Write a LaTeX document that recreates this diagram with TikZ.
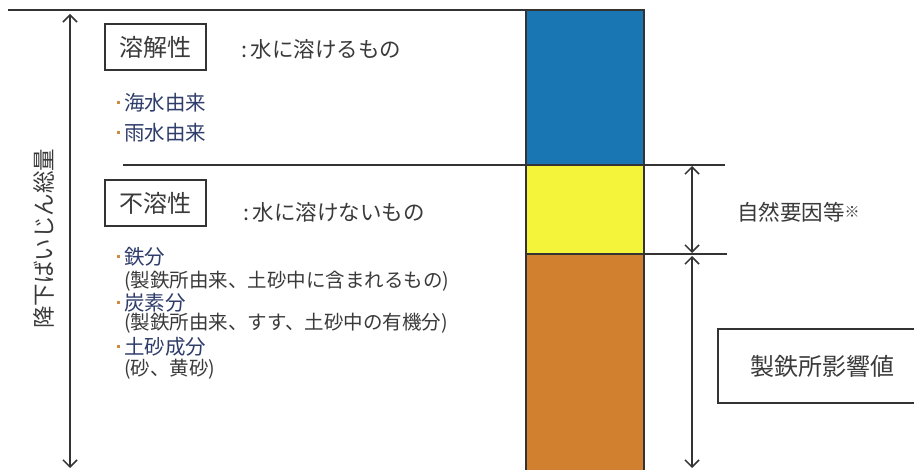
\documentclass[tikz,border=0pt]{standalone}
\usepackage{fontspec}
\setmainfont{Noto Sans CJK JP}
\usetikzlibrary{arrows.meta}
\definecolor{txt}{HTML}{3A3A3A}
\definecolor{navy}{HTML}{2F3D6B}
\definecolor{dotc}{HTML}{D08A40}
\definecolor{barblue}{HTML}{1A76B2}
\definecolor{baryel}{HTML}{F4F43A}
\definecolor{barorg}{HTML}{D1802F}
\definecolor{ln}{HTML}{333333}
\tikzset{
  lbox/.style={draw=ln, line width=2pt, minimum width=101pt, minimum height=46pt, inner sep=0pt, text=txt, font=\fontsize{24}{24}\selectfont},
  ttl/.style={anchor=west, inner sep=0pt, text=txt, font=\fontsize{21.5}{21.5}\selectfont},
  item/.style={anchor=west, inner sep=0pt, text=navy, font=\fontsize{20.5}{20.5}\selectfont},
  sub/.style={anchor=west, inner sep=0pt, text=txt, font=\fontsize{19.5}{19.5}\selectfont},
  hl/.style={draw=ln, line width=1.6pt},
  dim/.style={draw=ln, line width=1.5pt, {Straight Barb[length=7pt,width=14pt]}-{Straight Barb[length=7pt,width=14pt]}},
}
\newcommand{\bdot}{\makebox[12pt][c]{\raisebox{7pt}{\textcolor{dotc}{\rule{3pt}{3pt}}}}}
\begin{document}
\begin{tikzpicture}[x=1pt,y=-1pt]
\useasboundingbox (0,0) rectangle (914,470);
\clip (0,0) rectangle (914,470);
\fill[white] (0,0) rectangle (914,470);
% bar
\filldraw[fill=barblue, draw=ln, line width=1.2pt] (526,10) rectangle (644,165);
\filldraw[fill=baryel, draw=ln, line width=1.2pt] (526,165) rectangle (644,254);
\filldraw[fill=barorg, draw=ln, line width=1.2pt] (526,254) rectangle (644,480);
% guide lines
\coordinate (t0) at (8,10);
\coordinate (t1) at (526,10);
\coordinate (m0) at (123,165);
\coordinate (m1) at (725,165);
\coordinate (b0) at (644,254);
\coordinate (b1) at (727,254);
\draw[hl] (t0) -- (t1);
\draw[hl] (m0) -- (m1);
\draw[hl] (b0) -- (b1);
% left total arrow
\coordinate (la) at (70,14);
\coordinate (lb) at (70,468);
\draw[dim] (la) -- (lb);
\node[rotate=90, text=txt, font=\fontsize{22.5}{22.5}\selectfont, inner sep=0pt] (total) at (44,239) {降下ばいじん総量};
% right arrows
\coordinate (r0) at (692,166);
\coordinate (r1) at (692,253);
\coordinate (r2) at (692,256);
\coordinate (r3) at (692,468);
\draw[dim] (r0) -- (r1);
\draw[dim] (r2) -- (r3);
\node[text=txt, font=\fontsize{21.5}{21.5}\selectfont, inner sep=0pt, anchor=west] (nat) at (737,212) {自然要因等\raisebox{3pt}{\fontsize{15}{15}\selectfont ※}};
\node[draw=ln, line width=2pt, minimum width=220pt, minimum height=74pt, anchor=north west, inner sep=0pt] (effbox) at (717,328) {};
\node[text=txt, font=\fontsize{24}{24}\selectfont, inner sep=0pt] (eff) at (822,366) {製鉄所影響値};
% soluble
\node[lbox] (sol) at (155.5,47.5) {溶解性};
\node[ttl] (soldef) at (241,49) {:\,水に溶けるもの};
\node[item] (i1) at (112,103) {\bdot 海水由来};
\node[item] (i2) at (112,133) {\bdot 雨水由来};
% insoluble
\node[lbox] (ins) at (155.5,203) {不溶性};
\node[ttl] (insdef) at (243,212) {:\,水に溶けないもの};
\node[item] (j1) at (112,257) {\bdot 鉄分};
\node[sub] (j1s) at (124,281) {(製鉄所由来、土砂中に含まれるもの)};
\node[item] (j2) at (112,303) {\bdot 炭素分};
\node[sub] (j2s) at (124,323) {(製鉄所由来、すす、土砂中の有機分)};
\node[item] (j3) at (112,347) {\bdot 土砂成分};
\node[sub] (j3s) at (124,369) {(砂、黄砂)};
\end{tikzpicture}
\end{document}
